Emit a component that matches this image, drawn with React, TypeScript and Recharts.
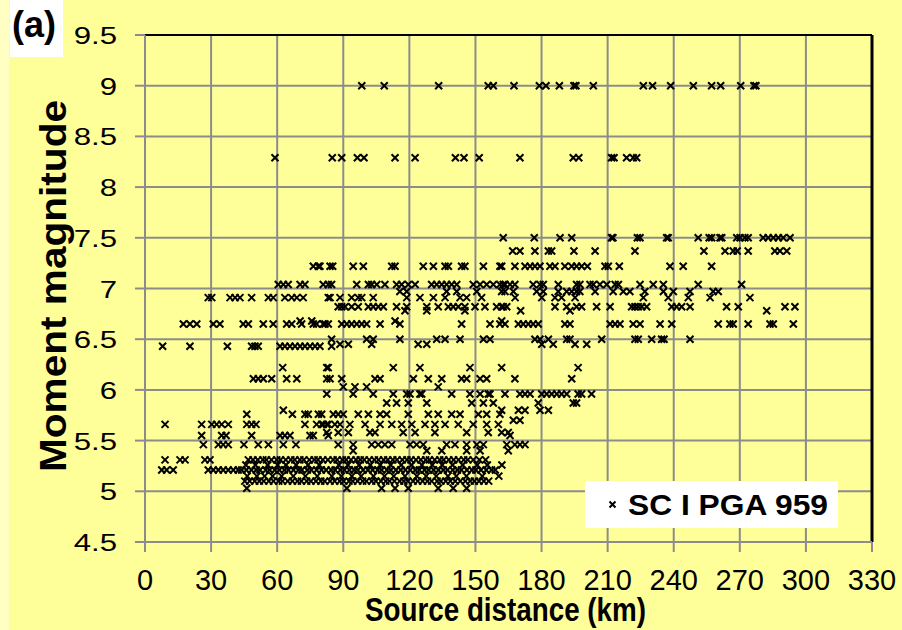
import { ScatterChart, Scatter, XAxis, YAxis, CartesianGrid, ReferenceLine } from "recharts";

// distances (km) grouped by moment magnitude row
const mag90 = [98.4, 108.6, 133.3, 155.8, 158.1, 167.5, 179.0, 182.0, 188.1, 194.7, 195.6, 203.5, 226.2, 230.4, 238.6, 248.9, 257.2, 261.3, 270.4, 276.4, 277.3];
const mag83 = [59.0, 85.0, 89.3, 96.4, 99.4, 113.5, 122.6, 140.9, 144.8, 151.7, 170.2, 194.4, 196.9, 211.8, 212.9, 218.6, 221.6, 223.2];
const mag75 = [162.6, 176.7, 188.4, 193.7, 211.8, 212.4, 223.5, 224.7, 236.8, 237.5, 251.1, 256.1, 257.2, 261.0, 261.8, 268.6, 270.1, 272.3, 273.8, 280.6, 282.9, 285.2, 287.5, 289.7, 292.8];
const mag737 = [166.9, 170.2, 177.0, 183.1, 184.6, 194.7, 204.3, 222.4, 253.7, 263.3, 267.0, 268.8, 273.8, 285.9, 288.2, 291.3];
const mag722 = [76.4, 78.7, 79.4, 84.0, 85.2, 94.5, 99.1, 112.0, 113.5, 126.3, 130.9, 136.2, 137.7, 143.7, 145.2, 153.6, 161.1, 161.9, 167.9, 172.5, 174.8, 177.0, 179.3, 183.8, 186.1, 190.6, 193.7, 195.9, 198.2, 200.8, 208.8, 210.3, 215.3, 238.3, 244.3, 257.2];
const mag704 = [60.5, 62.8, 65.0, 70.4, 72.6, 80.9, 83.2, 84.7, 96.1, 101.4, 102.9, 105.2, 108.9, 114.2, 116.5, 119.5, 122.6, 130.1, 132.4, 134.7, 136.9, 139.2, 141.5, 149.0, 152.1, 155.1, 158.1, 161.1, 162.6, 163.4, 165.7, 167.9, 176.2, 179.3, 180.8, 187.6, 195.9, 197.4, 202.0, 203.5, 206.5, 209.6, 213.4, 214.9, 224.7, 230.7, 235.3, 251.1, 270.8];
const mag697 = [115.7, 118.8, 136.9, 141.5, 150.6, 161.9, 163.4, 167.2, 177.8, 180.8, 187.6, 191.4, 193.7, 195.9, 197.4, 204.3, 212.5, 217.1, 220.1, 226.9, 235.3, 239.8, 247.4, 257.9, 260.2];
const mag691 = [28.7, 30.3, 38.6, 40.9, 43.1, 48.4, 56.0, 58.2, 63.5, 66.6, 68.9, 71.8, 83.2, 84.0, 88.5, 93.8, 96.8, 98.4, 103.6, 118.8, 124.8, 130.9, 136.2, 143.0, 146.0, 152.8, 168.0, 180.1, 186.1, 189.1, 195.2, 226.2, 237.5, 246.6, 256.5, 274.6];
const mag682 = [87.7, 89.3, 90.8, 93.8, 96.8, 101.4, 103.6, 105.9, 108.2, 114.2, 118.8, 127.9, 133.1, 137.7, 139.9, 142.2, 145.2, 149.8, 154.3, 159.6, 161.9, 162.6, 164.2, 186.1, 191.4, 195.9, 198.2, 205.0, 211.1, 220.9, 222.4, 223.9, 225.5, 227.7, 239.1, 241.3, 243.6, 247.4, 264.0, 269.3, 290.5, 295.0];
const mag678 = [118.0, 127.9, 145.2, 170.5, 192.9, 282.2];
const mag668 = [70.4, 75.7, 113.5, 161.9];
const mag665 = [17.4, 20.4, 23.5, 31.0, 34.0, 44.6, 46.9, 53.7, 58.2, 64.3, 66.6, 71.1, 76.4, 77.9, 81.7, 80.9, 83.2, 89.3, 91.6, 93.8, 96.1, 98.4, 100.6, 106.7, 115.7, 143.7, 156.6, 161.1, 163.4, 169.5, 171.7, 174.0, 176.2, 178.5, 190.6, 192.9, 211.1, 213.4, 215.6, 221.6, 224.7, 233.8, 239.1, 260.2, 265.5, 267.0, 273.8, 283.7, 285.2, 294.3];
const mag650 = [84.7, 100.6, 103.6, 115.7, 132.4, 136.2, 143.0, 153.6, 156.6, 177.0, 179.3, 183.1, 191.4, 192.9, 207.3, 222.4, 223.9, 230.0, 234.5, 235.6, 247.4];
const mag645 = [88.5, 92.3, 102.9, 124.0, 127.9, 180.1, 185.3, 195.2, 200.5];
const mag643 = [8.0, 20.4, 37.4, 48.4, 49.9, 51.4, 61.3, 63.5, 65.8, 68.1, 70.4, 72.6, 74.9, 77.2, 79.4, 84.7];
const mag622 = [62.5, 82.5, 83.2, 112.7, 124.8, 147.5, 161.9, 196.6];
const mag611 = [49.2, 51.4, 53.7, 57.5, 64.3, 68.9, 82.5, 84.0, 89.3, 104.4, 106.7, 121.8, 128.6, 134.7, 143.7, 146.0, 152.1, 155.1, 167.9, 193.7];
const mag603 = [90.0, 95.3, 100.6, 133.1];
const mag596 = [82.5, 94.5, 103.6, 112.7, 118.8, 120.3, 124.8, 125.6, 139.2, 147.5, 152.1, 155.8, 156.6, 163.4, 170.2, 172.5, 174.8, 180.1, 182.3, 184.6, 186.9, 189.1, 191.4, 196.6, 198.2, 202.7];
const mag587 = [109.7, 114.2, 119.5, 127.9, 148.3, 153.6, 158.1, 178.5, 194.4, 195.9];
const mag580 = [62.8, 161.9, 169.5, 172.5, 179.3, 183.1];
const mag576 = [46.2, 66.9, 72.6, 74.1, 78.7, 80.2, 85.5, 87.7, 90.0, 96.8, 101.4, 106.7, 109.7, 119.5, 128.6, 133.1, 139.2, 143.0, 151.3, 155.1, 161.1];
const mag570 = [167.2, 170.2];
const mag566 = [9.1, 25.7, 30.3, 32.5, 34.8, 37.8, 46.2, 48.4, 50.4, 72.6, 77.9, 80.2, 80.9, 82.5, 83.2, 86.2, 88.5, 93.0, 99.9, 106.7, 112.0, 116.5, 121.1, 127.1, 131.6, 136.2, 142.2, 149.0, 155.1, 160.4];
const mag558 = [82.5, 87.7, 92.3, 102.1, 104.4, 117.2, 122.6, 131.6, 146.0, 155.8, 161.9, 164.9];
const mag555 = [25.7, 34.8, 36.8, 48.4, 61.3, 63.5, 65.8, 74.9, 76.4, 83.2, 165.7];
const mag546 = [26.5, 33.3, 35.5, 37.8, 44.9, 51.4, 56.0, 62.8, 68.5, 87.7, 94.5, 102.9, 105.9, 108.9, 112.0, 120.3, 123.3, 126.3, 136.9, 140.7, 146.0, 150.6, 153.6, 164.2, 167.9, 170.2, 172.5];
const mag540 = [94.5, 127.9, 134.7, 146.0, 152.1, 164.9];
const mag531 = [9.1, 15.9, 18.2, 27.2, 29.5, 46.9, 49.0, 51.2, 53.5, 55.1, 57.4, 59.8, 61.5, 63.9, 66.2, 68.0, 70.3, 72.1, 74.6, 76.8, 78.5, 80.7, 83.0, 85.4, 87.2, 89.6, 91.3, 93.5, 95.8, 97.7, 99.5, 101.8, 104.1, 106.0, 108.3, 110.2, 112.5, 114.4, 116.8, 118.9, 120.7, 123.0, 125.2, 127.4, 129.1, 131.5, 133.8, 135.6, 137.9, 140.1, 142.3, 144.7, 146.5, 149.0, 151.8, 154.6];
const mag526 = [45.8, 50.1, 55.7, 60.2, 64.0, 68.6, 74.0, 79.1, 88.0, 92.1, 97.2, 102.3, 106.8, 111.5, 116.3, 121.0, 125.7, 130.4, 134.9, 139.6, 144.2, 150.8, 155.4, 162.0];
const mag521 = [7.6, 9.8, 12.8, 28.7, 31.0, 33.3, 35.5, 37.8, 40.1, 42.3, 43.9, 46.0, 48.3, 50.5, 52.2, 54.8, 56.6, 58.9, 61.0, 63.3, 65.1, 67.4, 69.6, 71.2, 73.7, 75.5, 77.9, 80.1, 82.2, 84.5, 86.3, 88.7, 90.5, 92.8, 94.9, 96.6, 99.0, 101.2, 103.3, 105.6, 107.4, 109.8, 111.6, 113.9, 116.1, 118.2, 120.4, 122.7, 124.5, 126.9, 128.8, 131.0, 133.2, 135.4, 137.3, 139.7, 141.8, 143.6, 146.1, 148.4, 150.2, 152.5, 154.9, 157.3, 159.0];
const mag515 = [46.4, 50.8, 54.3, 57.9, 62.0, 67.3, 72.8, 78.2, 84.8, 89.1, 93.9, 98.1, 103.7, 108.7, 112.9, 118.0, 123.4, 127.6, 132.2, 137.5, 141.3, 145.9, 153.1, 160.6];
const mag510 = [45.3, 47.5, 49.8, 51.9, 53.9, 56.2, 58.3, 60.7, 62.4, 64.8, 66.9, 69.2, 71.0, 73.4, 75.3, 77.6, 79.8, 81.6, 84.0, 86.1, 88.4, 90.2, 92.6, 94.3, 96.5, 98.8, 100.5, 102.9, 104.8, 107.1, 109.3, 111.0, 113.2, 115.6, 117.5, 119.3, 121.7, 123.8, 126.0, 128.2, 130.1, 132.6, 134.3, 136.5, 138.6, 140.8, 143.1, 145.4, 147.6, 149.5, 151.6, 153.8, 156.0];
const mag503 = [46.2, 91.6, 107.4, 113.5, 119.5, 133.1, 139.9, 146.0];

const rows: [number, number[]][] = [
  [9.0, mag90], [8.29, mag83], [7.5, mag75], [7.37, mag737], [7.22, mag722],
  [7.04, mag704], [6.97, mag697], [6.91, mag691], [6.82, mag682], [6.78, mag678],
  [6.68, mag668], [6.65, mag665], [6.5, mag650], [6.45, mag645], [6.43, mag643],
  [6.22, mag622], [6.11, mag611], [6.03, mag603], [5.96, mag596], [5.87, mag587],
  [5.8, mag580], [5.76, mag576], [5.7, mag570], [5.66, mag566], [5.58, mag558],
  [5.55, mag555], [5.46, mag546], [5.4, mag540], [5.31, mag531], [5.26, mag526],
  [5.21, mag521], [5.15, mag515], [5.1, mag510], [5.03, mag503],
];

const points = rows.flatMap(([m, ds]) => ds.map((d) => ({ x: d, y: m })));

const X_TICKS = [0, 30, 60, 90, 120, 150, 180, 210, 240, 270, 300, 330];
const Y_TICKS = [4.5, 5, 5.5, 6, 6.5, 7, 7.5, 8, 8.5, 9, 9.5];

const BG = "#FFFF99";
const GRID = "#8c8c8c";
const FONT = "'Liberation Sans', Arial, sans-serif";

function Cross(props: any) {
  const { cx, cy } = props;
  const r = 3.5;
  return (
    <path
      d={`M${cx - r},${cy - r}L${cx + r},${cy + r}M${cx - r},${cy + r}L${cx + r},${cy - r}`}
      stroke="#000"
      strokeWidth={2}
      fill="none"
    />
  );
}

function YTick({ x, y, payload }: any) {
  return (
    <g transform={`translate(${x},${y})`}>
      <text x={0} y={0} dy={9} textAnchor="end" transform="scale(1.3,1)" fontSize={24} fontFamily={FONT} fill="#000">
        {payload.value}
      </text>
    </g>
  );
}

function XTick({ x, y, payload }: any) {
  return (
    <text x={x} y={y} dy={38} textAnchor="middle" fontSize={29} fontFamily={FONT} fill="#000">
      {payload.value}
    </text>
  );
}

export default function App() {
  return (
    <div style={{ position: "relative", width: 902, height: 630, background: BG, fontFamily: FONT }}>
      <style>{"body{margin:0}"}</style>
      <ScatterChart width={902} height={630} margin={{ top: 35, right: 30, bottom: 0, left: 0 }}>
        <CartesianGrid stroke={GRID} strokeWidth={2} fill={BG} />
        <XAxis
          type="number"
          dataKey="x"
          domain={[0, 330]}
          ticks={X_TICKS}
          height={88}
          axisLine={{ stroke: GRID, strokeWidth: 2 }}
          tickLine={{ stroke: GRID, strokeWidth: 2 }}
          tickSize={10}
          tickMargin={0}
          tick={<XTick />}
          allowDataOverflow
        />
        <YAxis
          type="number"
          dataKey="y"
          domain={[4.5, 9.5]}
          ticks={Y_TICKS}
          width={145}
          axisLine={{ stroke: GRID, strokeWidth: 2 }}
          tickLine={{ stroke: GRID, strokeWidth: 2 }}
          tickSize={10}
          tickMargin={18}
          tick={<YTick />}
          allowDataOverflow
        />
        <ReferenceLine y={9.5} stroke="#000" strokeWidth={2} />
        <ReferenceLine x={330} stroke="#000" strokeWidth={3} />
        <Scatter data={points} shape={<Cross />} isAnimationActive={false} />
      </ScatterChart>
      <svg width={902} height={630} style={{ position: "absolute", left: 0, top: 0, pointerEvents: "none" }}>
        <rect x={0} y={0} width={9} height={630} fill="#FFFFC4" />
        <rect x={10} y={0} width={53} height={57} fill="#fff" />
        <text x={12} y={37} fontSize={36} fontWeight="bold" fontFamily={FONT}>(a)</text>
        <text
          x={66}
          y={286}
          transform="rotate(-90, 66, 286)"
          textAnchor="middle"
          fontSize={37}
          fontWeight="bold"
          fontFamily={FONT}
          textLength={372}
          lengthAdjust="spacingAndGlyphs"
        >
          Moment magnitude
        </text>
        <text
          x={365}
          y={621}
          fontSize={34}
          fontWeight="bold"
          fontFamily={FONT}
          textLength={281}
          lengthAdjust="spacingAndGlyphs"
        >
          Source distance (km)
        </text>
        <rect x={585} y={481} width={253} height={47} fill="#fff" />
        <path d="M609.5,501.5L615.5,507.5M609.5,507.5L615.5,501.5" stroke="#000" strokeWidth={2} />
        <text x={628} y={515} fontSize={30} fontWeight="bold" fontFamily={FONT} textLength={200} lengthAdjust="spacingAndGlyphs">
          SC I PGA 959
        </text>
      </svg>
    </div>
  );
}
